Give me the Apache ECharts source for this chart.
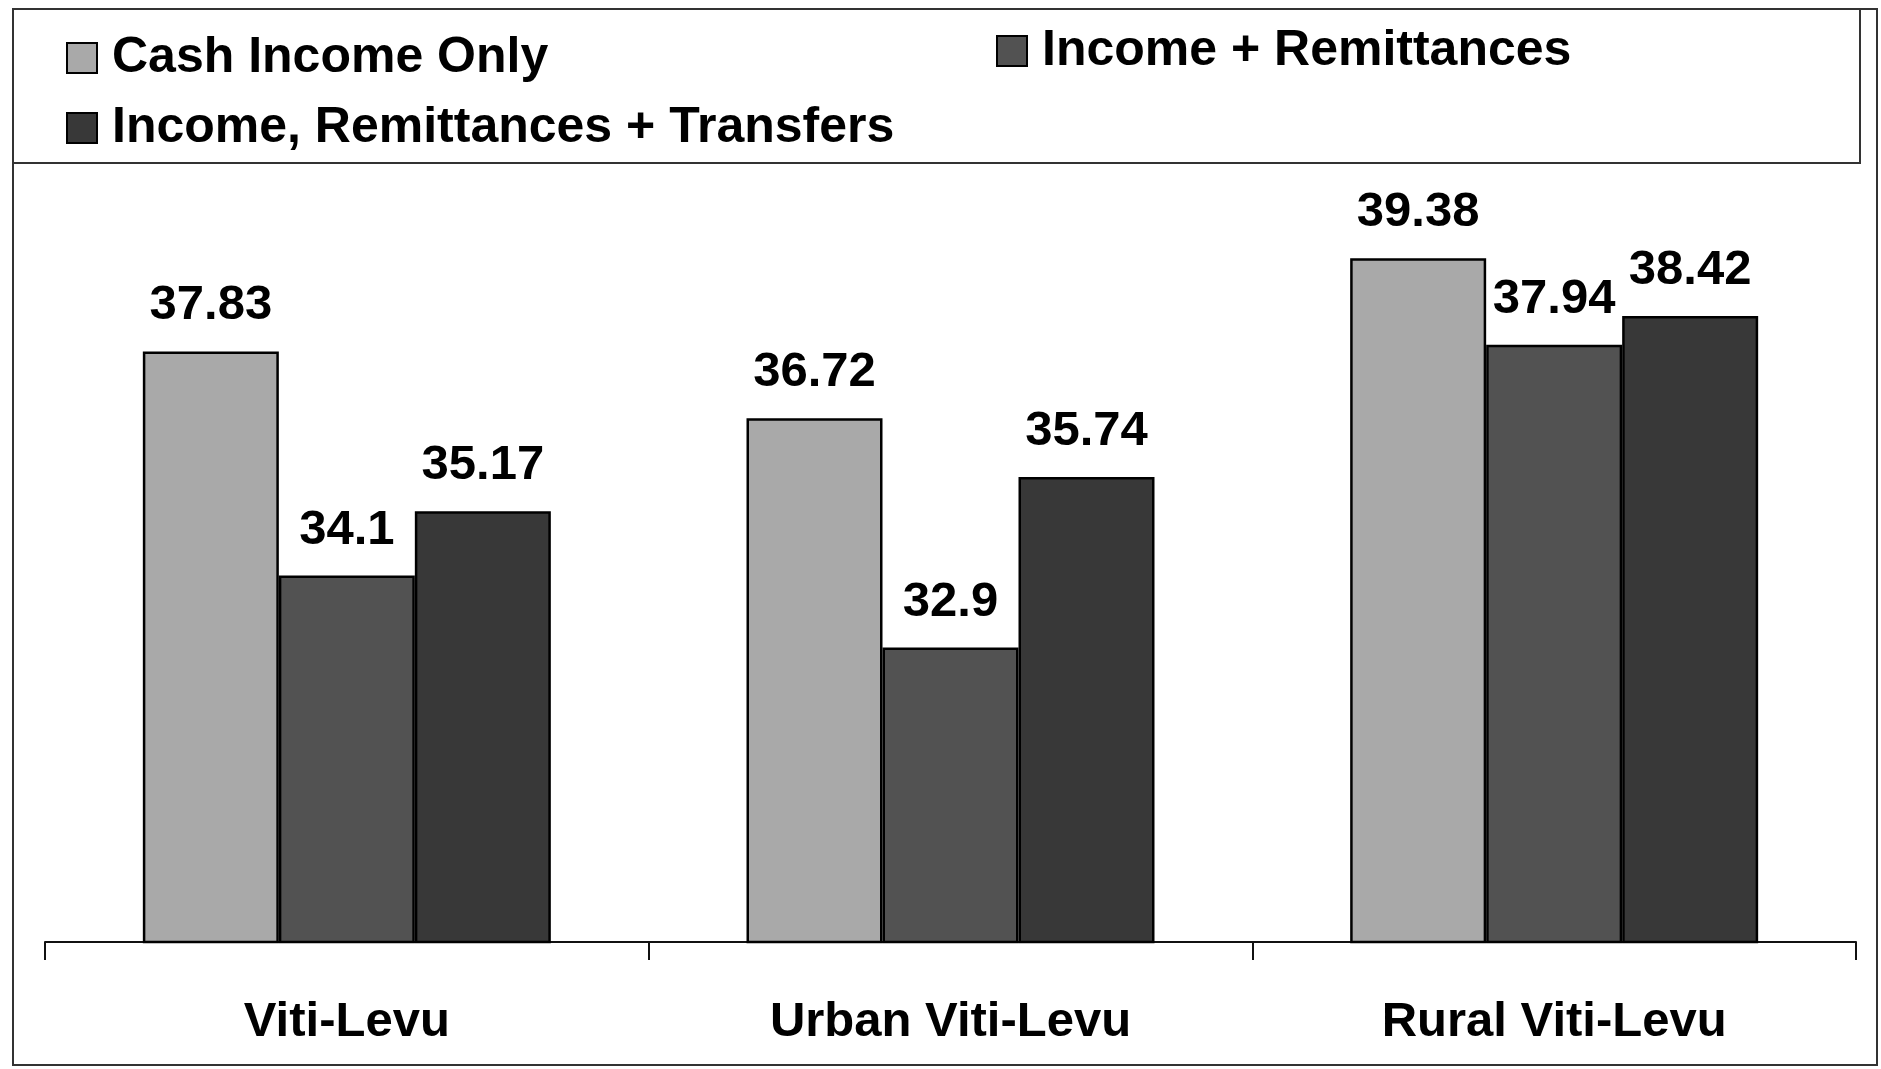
<!DOCTYPE html>
<html>
<head>
<meta charset="utf-8">
<script src="https://cdn.jsdelivr.net/npm/echarts@6/dist/echarts.min.js"></script>
<style>
  html, body { margin: 0; padding: 0; background: #fff; }
  #chart { width: 1881px; height: 1069px; }
</style>
</head>
<body>
<div id="chart"></div>
<script>
// categories and series values
const categories = ['Viti-Levu', 'Urban Viti-Levu', 'Rural Viti-Levu'];
const seriesNames = ['Cash Income Only', 'Income + Remittances', 'Income, Remittances + Transfers'];
const cashIncome = [37.83, 36.72, 39.38];
const incomeRemit = [34.1, 32.9, 37.94];
const incomeRemitTransfers = [35.17, 35.74, 38.42];

const barColors = ['#a9a9a9', '#525252', '#383838'];
const font = 'Liberation Sans, Arial, sans-serif';

const chart = echarts.init(document.getElementById('chart'));

// one legend per item so each one sits where it does in the original
function legendAt(name, left, top) {
  return {
    data: [name],
    left: left,
    top: top,
    padding: 0,
    itemWidth: 30,
    itemHeight: 30,
    icon: 'rect',
    selectedMode: false,
    textStyle: {
      color: '#000',
      fontFamily: font,
      fontWeight: 'bold',
      fontSize: 50,
      padding: [0, 0, 0, 10]
    }
  };
}

function barSeries(name, data, color) {
  return {
    name: name,
    type: 'bar',
    data: data,
    barWidth: 136,
    barGap: '0%',
    itemStyle: {
      color: color,
      borderColor: '#000',
      borderWidth: 2.5
    },
    label: {
      show: true,
      position: 'top',
      distance: 21,
      color: '#000',
      fontFamily: font,
      fontWeight: 'bold',
      fontSize: 49
    }
  };
}

const option = {
  backgroundColor: '#fff',
  animation: false,
  legend: [
    legendAt(seriesNames[0], 66, 33),
    legendAt(seriesNames[1], 996, 26),
    legendAt(seriesNames[2], 66, 103)
  ],
  grid: {
    left: 45,
    right: 25,
    top: 161,
    bottom: 127
  },
  xAxis: {
    type: 'category',
    data: categories,
    axisLine: { lineStyle: { color: '#111', width: 2 } },
    axisTick: { show: true, length: 18, lineStyle: { color: '#111', width: 2 } },
    axisLabel: {
      color: '#000',
      fontFamily: font,
      fontWeight: 'bold',
      fontSize: 49,
      margin: 56
    }
  },
  yAxis: {
    type: 'value',
    min: 28,
    max: 41,
    show: false,
    splitLine: { show: false }
  },
  series: [
    barSeries(seriesNames[0], cashIncome, barColors[0]),
    barSeries(seriesNames[1], incomeRemit, barColors[1]),
    barSeries(seriesNames[2], incomeRemitTransfers, barColors[2])
  ],
  graphic: [
    {
      // outer frame
      type: 'rect',
      shape: { x: 13, y: 9, width: 1864, height: 1056 },
      style: { fill: 'none', stroke: '#333', lineWidth: 2 },
      z: -1
    },
    {
      // legend box
      type: 'rect',
      shape: { x: 13, y: 9, width: 1847, height: 154 },
      style: { fill: 'none', stroke: '#333', lineWidth: 2 },
      z: -1
    }
  ]
};

chart.setOption(option);
</script>
</body>
</html>
